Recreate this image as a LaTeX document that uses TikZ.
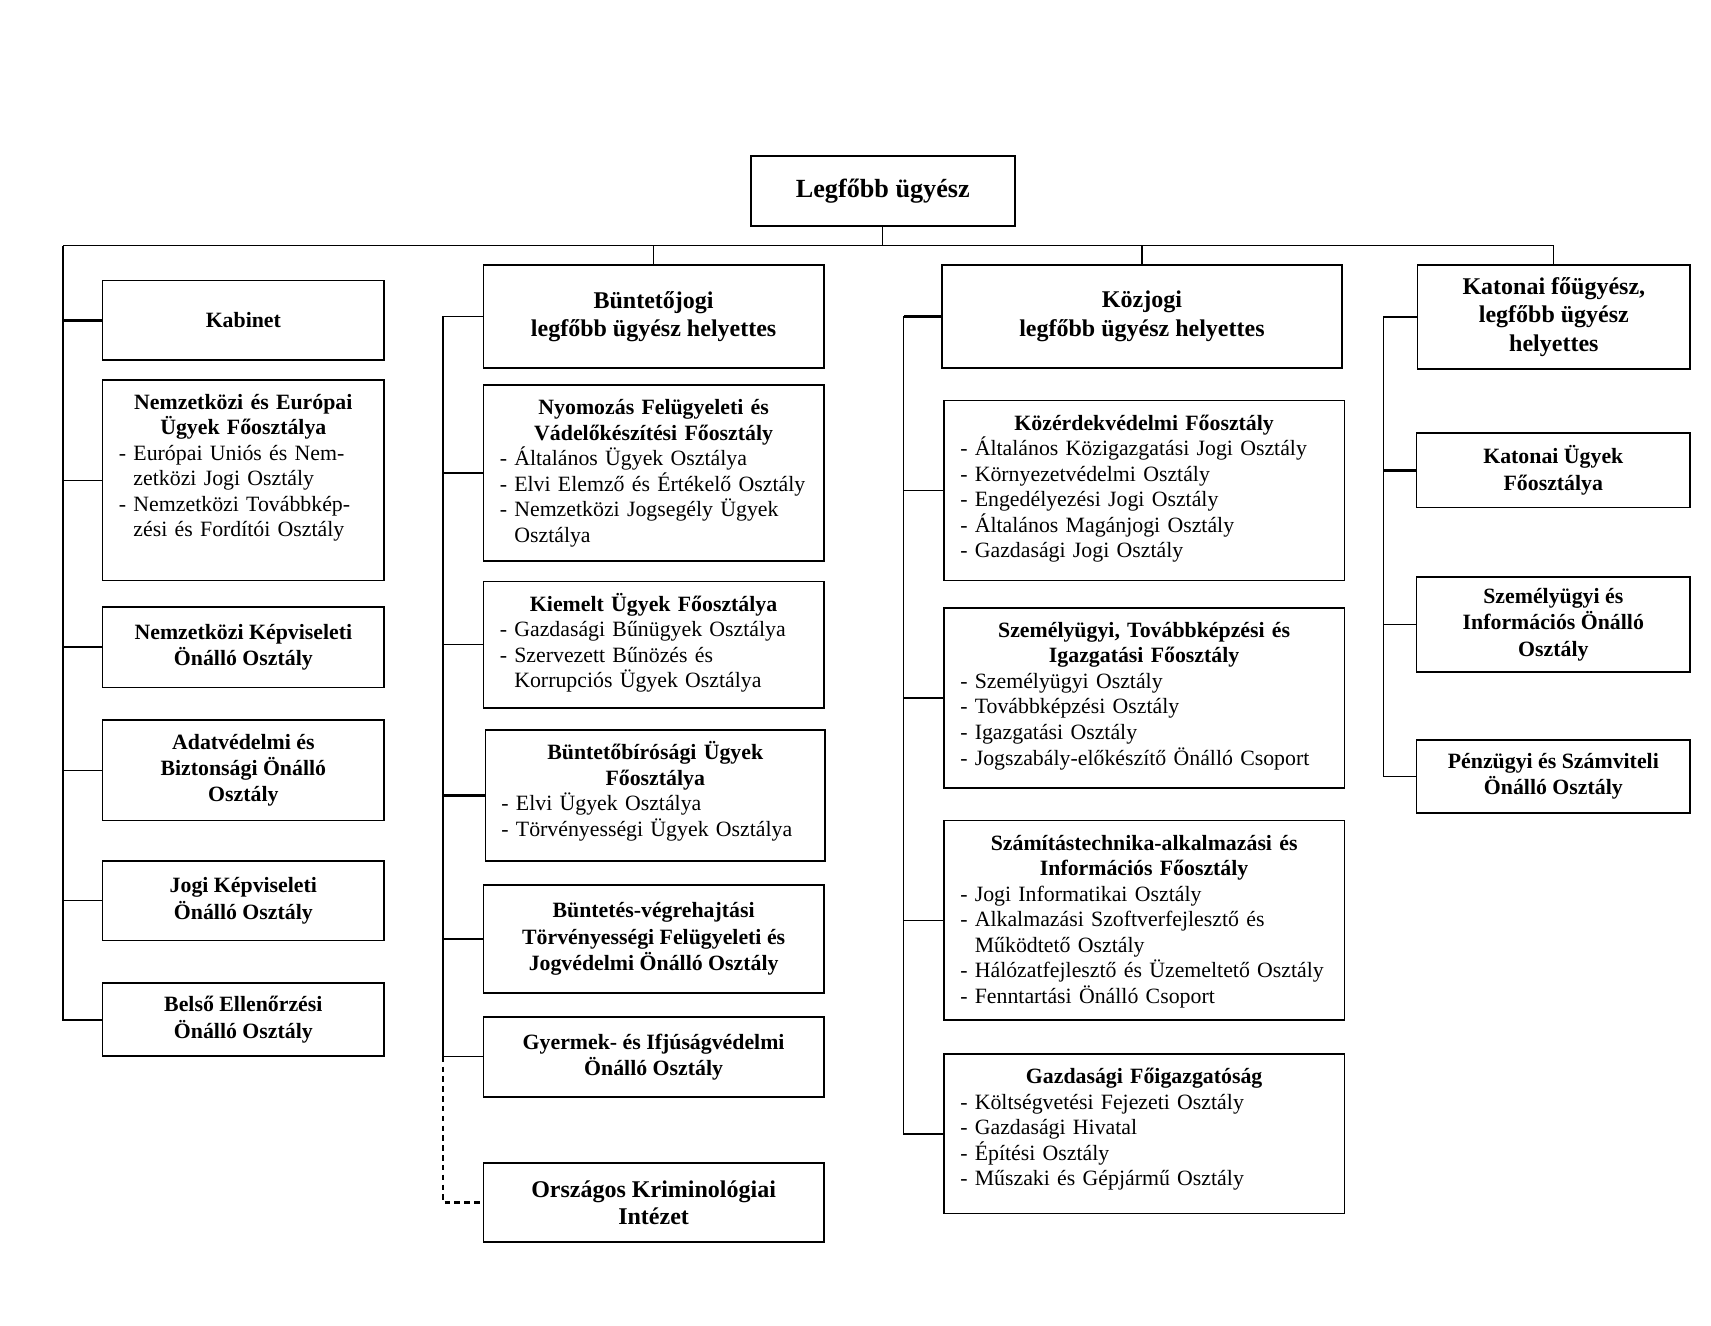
\documentclass[tikz,border=0pt]{standalone}
\usepackage{fontspec}
\setmainfont{Liberation Serif}
\usetikzlibrary{calc}
\newcommand\li[1]{\par\noindent\mbox{-\ #1}}
\newcommand\lc[1]{\par\noindent\mbox{\phantom{-\ }#1}}
\newcommand\ttl{\rule{0pt}{9pt}}
\tikzset{
  box/.style={draw, line width=0.8pt, inner sep=0pt, align=center,
    font=\bfseries\fontsize{10}{12}\selectfont},
  depbox/.style={box, font=\bfseries\fontsize{11}{13}\selectfont},
  listtext/.style={anchor=north, inner sep=0pt, yshift=-4.75pt,
    font=\fontsize{10}{11.7}\selectfont},
  conn/.style={line width=0.5pt},
  thickconn/.style={line width=1.2pt},
  midconn/.style={line width=0.8pt},
  dashconn/.style={line width=1pt, dash pattern=on 2.5pt off 2pt}
}
\begin{document}
\begin{tikzpicture}[x=0.5pt, y=-0.5pt]
\useasboundingbox[fill=white] (0,0) rectangle (1568,1214.3);

% top
\node[box, font=\bfseries\fontsize{12}{14}\selectfont, minimum width=121pt, minimum height=32pt] (top) at (809,175) {Legfőbb ügyész};

% column 1
\node[box, minimum width=129pt, minimum height=36.5pt] (kab) at (223,293.5) {Kabinet};
\node[box, minimum width=129pt, minimum height=92pt] (neu) at (223,440) {};
\node[listtext, text width=114pt] (neut) at (neu.north) {{\centering\bfseries\ttl Nemzetközi és Európai\\Ügyek Főosztálya\par}
\li{Európai Uniós és Nem-}\lc{zetközi Jogi Osztály}\li{Nemzetközi Továbbkép-}\lc{zési és Fordítói Osztály}};
\node[box, minimum width=129pt, minimum height=37pt] (nkep) at (223,593) {\raisebox{-1pt}{Nemzetközi Képviseleti}\\\raisebox{-1pt}{Önálló Osztály}};
\node[box, minimum width=129pt, minimum height=46pt] (adat) at (223,706) {Adatvédelmi és\\Biztonsági Önálló\\Osztály};
\node[box, minimum width=129pt, minimum height=36.5pt] (jogi) at (223,825.5) {Jogi Képviseleti\\Önálló Osztály};
\node[box, minimum width=129pt, minimum height=33.5pt] (belso) at (223,934.5) {Belső Ellenőrzési\\Önálló Osztály};

% column 2
\node[depbox, minimum width=156pt, minimum height=47pt] (bunt) at (599,290) {\raisebox{1pt}{Büntetőjogi}\\\raisebox{1pt}{legfőbb ügyész helyettes}};
\node[box, minimum width=156pt, minimum height=80.5pt] (nyom) at (599,433.5) {};
\node[listtext, text width=141pt] (nyomt) at (nyom.north) {{\centering\bfseries\ttl Nyomozás Felügyeleti és\\Vádelőkészítési Főosztály\par}
\li{Általános Ügyek Osztálya}\li{Elvi Elemző és Értékelő Osztály}\li{Nemzetközi Jogsegély Ügyek}\lc{Osztálya}};
\node[box, minimum width=156pt, minimum height=58pt] (kiem) at (599,591) {};
\node[listtext, text width=141pt] (kiemt) at (kiem.north) {{\centering\bfseries\ttl Kiemelt Ügyek Főosztálya\par}
\li{Gazdasági Bűnügyek Osztálya}\li{Szervezett Bűnözés és}\lc{Korrupciós Ügyek Osztálya}};
\node[box, minimum width=155.5pt, minimum height=60pt] (bbir) at (600.5,729) {};
\node[listtext, text width=141pt] (bbirt) at (bbir.north) {{\centering\bfseries\ttl Büntetőbírósági Ügyek\\Főosztálya\par}
\li{Elvi Ügyek Osztálya}\li{Törvényességi Ügyek Osztálya}};
\node[box, minimum width=156pt, minimum height=49.5pt] (bvh) at (599,860.5) {Büntetés-végrehajtási\\Törvényességi Felügyeleti és\\Jogvédelmi Önálló Osztály};
\node[box, minimum width=156pt, minimum height=36.5pt] (gyer) at (599,968.5) {Gyermek- és Ifjúságvédelmi\\Önálló Osztály};
\node[box, font=\bfseries\fontsize{11}{12.5}\selectfont, minimum width=156pt, minimum height=36pt] (okri) at (599,1102) {Országos Kriminológiai\\Intézet};

% column 3
\node[depbox, minimum width=183.5pt, minimum height=47pt] (koz) at (1046.5,290) {\raisebox{-1.5pt}{Közjogi}\\\raisebox{-1.5pt}{legfőbb ügyész helyettes}};
\node[box, minimum width=183.5pt, minimum height=82.5pt] (kozer) at (1048.5,449.5) {};
\node[listtext, text width=168.5pt] (kozert) at (kozer.north) {{\centering\bfseries\ttl Közérdekvédelmi Főosztály\par}
\li{Általános Közigazgatási Jogi Osztály}\li{Környezetvédelmi Osztály}\li{Engedélyezési Jogi Osztály}\li{Általános Magánjogi Osztály}\li{Gazdasági Jogi Osztály}};
\node[box, minimum width=183.5pt, minimum height=82.5pt] (szem) at (1048.5,639.5) {};
\node[listtext, text width=168.5pt] (szemt) at (szem.north) {{\centering\bfseries\ttl Személyügyi, Továbbképzési és\\Igazgatási Főosztály\par}
\li{Személyügyi Osztály}\li{Továbbképzési Osztály}\li{Igazgatási Osztály}\li{Jogszabály-előkészítő Önálló Csoport}};
\node[box, minimum width=183.5pt, minimum height=91.5pt] (szam) at (1048.5,843.5) {};
\node[listtext, text width=168.5pt] (szamt) at (szam.north) {{\centering\bfseries\ttl Számítástechnika-alkalmazási és\\Információs Főosztály\par}
\li{Jogi Informatikai Osztály}\li{Alkalmazási Szoftverfejlesztő és}\lc{Működtető Osztály}\li{Hálózatfejlesztő és Üzemeltető Osztály}\li{Fenntartási Önálló Csoport}};
\node[box, minimum width=183.5pt, minimum height=73pt] (gazd) at (1048.5,1039) {};
\node[listtext, text width=168.5pt] (gazdt) at (gazd.north) {{\centering\bfseries\ttl Gazdasági Főigazgatóság\par}
\li{Költségvetési Fejezeti Osztály}\li{Gazdasági Hivatal}\li{Építési Osztály}\li{Műszaki és Gépjármű Osztály}};

% column 4
\node[depbox, minimum width=125pt, minimum height=47.5pt] (kat) at (1424,290.5) {Katonai főügyész,\\legfőbb ügyész\\helyettes};
\node[box, minimum width=125.5pt, minimum height=34pt] (katu) at (1423.5,431) {Katonai Ügyek\\Főosztálya};
\node[box, minimum width=125.5pt, minimum height=43.5pt] (szinf) at (1423.5,572.5) {Személyügyi és\\Információs Önálló\\Osztály};
\node[box, minimum width=125.5pt, minimum height=33.5pt] (penz) at (1423.5,711.5) {Pénzügyi és Számviteli\\Önálló Osztály};

% bus
\coordinate (bL) at (58,225);
\coordinate (bR) at (kat.north |- bL);
\coordinate (c2) at (406,0);
\coordinate (c3) at (828,0);
\coordinate (c4) at (1268,0);
\draw[conn] (top.south) -- (top.south |- bL);
\draw[conn] (bL) -- (bR) -- (kat.north);
\draw[conn] (bunt.north |- bL) -- (bunt.north);
\draw[conn] (koz.north |- bL) -- (koz.north);

% column 1 links
\draw[midconn] (bL) |- (belso.west);
\draw[thickconn] (kab.west -| bL) -- (kab.west);
\draw[conn] (neu.west -| bL) -- (neu.west);
\draw[thickconn] (nkep.west -| bL) -- (nkep.west);
\draw[conn] (adat.west -| bL) -- (adat.west);
\draw[conn] (jogi.west -| bL) -- (jogi.west);

% column 2 links
\draw[conn] (bunt.west) -- (bunt.west -| c2) -- (gyer.west -| c2);
\draw[conn] (nyom.west -| c2) -- (nyom.west);
\draw[conn] (kiem.west -| c2) -- (kiem.west);
\draw[thickconn] (bbir.west -| c2) -- (bbir.west);
\draw[conn] (bvh.west -| c2) -- (bvh.west);
\draw[conn] (gyer.west -| c2) -- (gyer.west);
\draw[dashconn] (gyer.west -| c2) |- (okri.west);

% column 3 links
\draw[thickconn] (koz.west) -- (koz.west -| c3);
\draw[midconn] (koz.west -| c3) |- (gazd.west);
\draw[conn] (kozer.west -| c3) -- (kozer.west);
\draw[midconn] (szem.west -| c3) -- (szem.west);
\draw[midconn] (szam.west -| c3) -- (szam.west);

% column 4 links
\draw[conn] (kat.west) -- (kat.west -| c4) |- (penz.west);
\draw[thickconn] (katu.west -| c4) -- (katu.west);
\draw[conn] (szinf.west -| c4) -- (szinf.west);
\end{tikzpicture}
\end{document}
